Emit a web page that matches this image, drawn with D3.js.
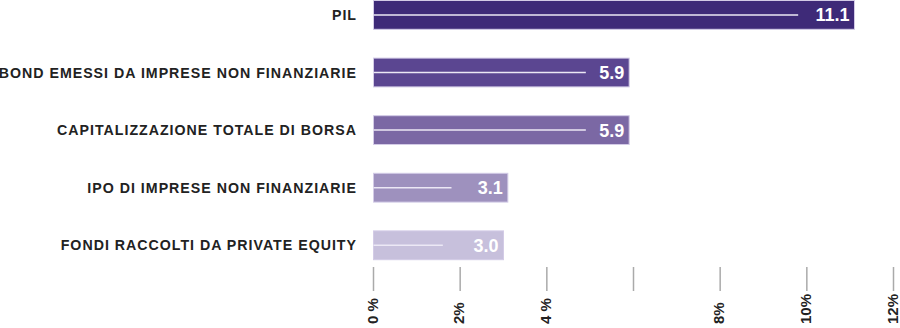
<!DOCTYPE html>
<html>
<head>
<meta charset="utf-8">
<script src="https://cdn.jsdelivr.net/npm/d3@7"></script>
<style>
  html, body { margin: 0; padding: 0; background: #fff; }
  svg { display: block; }
</style>
</head>
<body>
<svg id="chart" width="900" height="328"></svg>
<script>
const categories = [
  "PIL",
  "BOND EMESSI DA IMPRESE NON FINANZIARIE",
  "CAPITALIZZAZIONE TOTALE DI BORSA",
  "IPO DI IMPRESE NON FINANZIARIE",
  "FONDI RACCOLTI DA PRIVATE EQUITY"
];
const values = [11.1, 5.9, 5.9, 3.1, 3.0];
const lineValues = [9.8, 4.9, 4.9, 1.8, 1.6];
const barColors = ["#3e2a78", "#5b4691", "#7b68a4", "#9e91be", "#c7c0dc"];
const tickValues = [0, 2, 4, 6, 8, 10, 12];
const tickLabels = ["0 %", "2%", "4 %", "", "8%", "10%", "12%"];

const narrow = "'Liberation Sans Narrow', 'Arial Narrow', 'Liberation Sans', Arial, sans-serif";
const svg = d3.select("#chart");
const x = d3.scaleLinear().domain([0, 12]).range([373.5, 893.5]);
const y = d3.scaleBand().domain(categories).range([0, 259.2]).paddingInner(0.5).paddingOuter(0);

const data = categories.map((c, i) => ({ c, v: values[i], l: lineValues[i], col: barColors[i] }));

const g = svg.append("g");
g.selectAll("rect.bar").data(data).join("rect")
  .attr("class", "bar")
  .attr("x", x(0))
  .attr("y", d => y(d.c) + 0.5)
  .attr("width", d => x(d.v) - x(0))
  .attr("height", y.bandwidth())
  .attr("fill", d => d.col)
  .attr("stroke", "#d3cbe6")
  .attr("stroke-width", 1);

g.selectAll("line.inner").data(data).join("line")
  .attr("class", "inner")
  .attr("x1", x(0))
  .attr("x2", d => x(d.l))
  .attr("y1", d => y(d.c) + y.bandwidth() / 2 + 0.5)
  .attr("y2", d => y(d.c) + y.bandwidth() / 2 + 0.5)
  .attr("stroke", "#ece8f5")
  .attr("stroke-width", 1.5);

g.selectAll("text.val").data(data).join("text")
  .attr("class", "val")
  .attr("x", d => x(d.v) - 5)
  .attr("y", d => y(d.c) + y.bandwidth() / 2 + 7)
  .attr("text-anchor", "end")
  .attr("fill", "#ffffff")
  .style("font-family", narrow)
  .style("font-weight", "bold")
  .style("font-size", "18px")
  .text(d => d.v.toFixed(1));

g.selectAll("text.cat").data(data).join("text")
  .attr("class", "cat")
  .attr("x", 357)
  .attr("y", d => y(d.c) + y.bandwidth() / 2 + 5.5)
  .attr("text-anchor", "end")
  .attr("fill", "#222222")
  .style("font-family", "'Liberation Sans', Arial, sans-serif")
  .style("font-weight", "bold")
  .style("font-size", "14.2px")
  .style("letter-spacing", "1px")
  .text(d => d.c);

// Axis ticks
const axisG = svg.append("g");
axisG.selectAll("line.tick").data(tickValues).join("line")
  .attr("class", "tick")
  .attr("x1", d => x(d)).attr("x2", d => x(d))
  .attr("y1", 267).attr("y2", 291)
  .attr("stroke", "#aaaaaa")
  .attr("stroke-width", 1.5);

axisG.selectAll("text.tl").data(tickValues).join("text")
  .attr("class", "tl")
  .attr("transform", d => `translate(${x(d) + 4},324) rotate(-90)`)
  .attr("text-anchor", "start")
  .attr("fill", "#222222")
  .style("font-family", narrow)
  .style("font-weight", "bold")
  .style("font-size", "15px")
  .text((d, i) => tickLabels[i]);
</script>
</body>
</html>
